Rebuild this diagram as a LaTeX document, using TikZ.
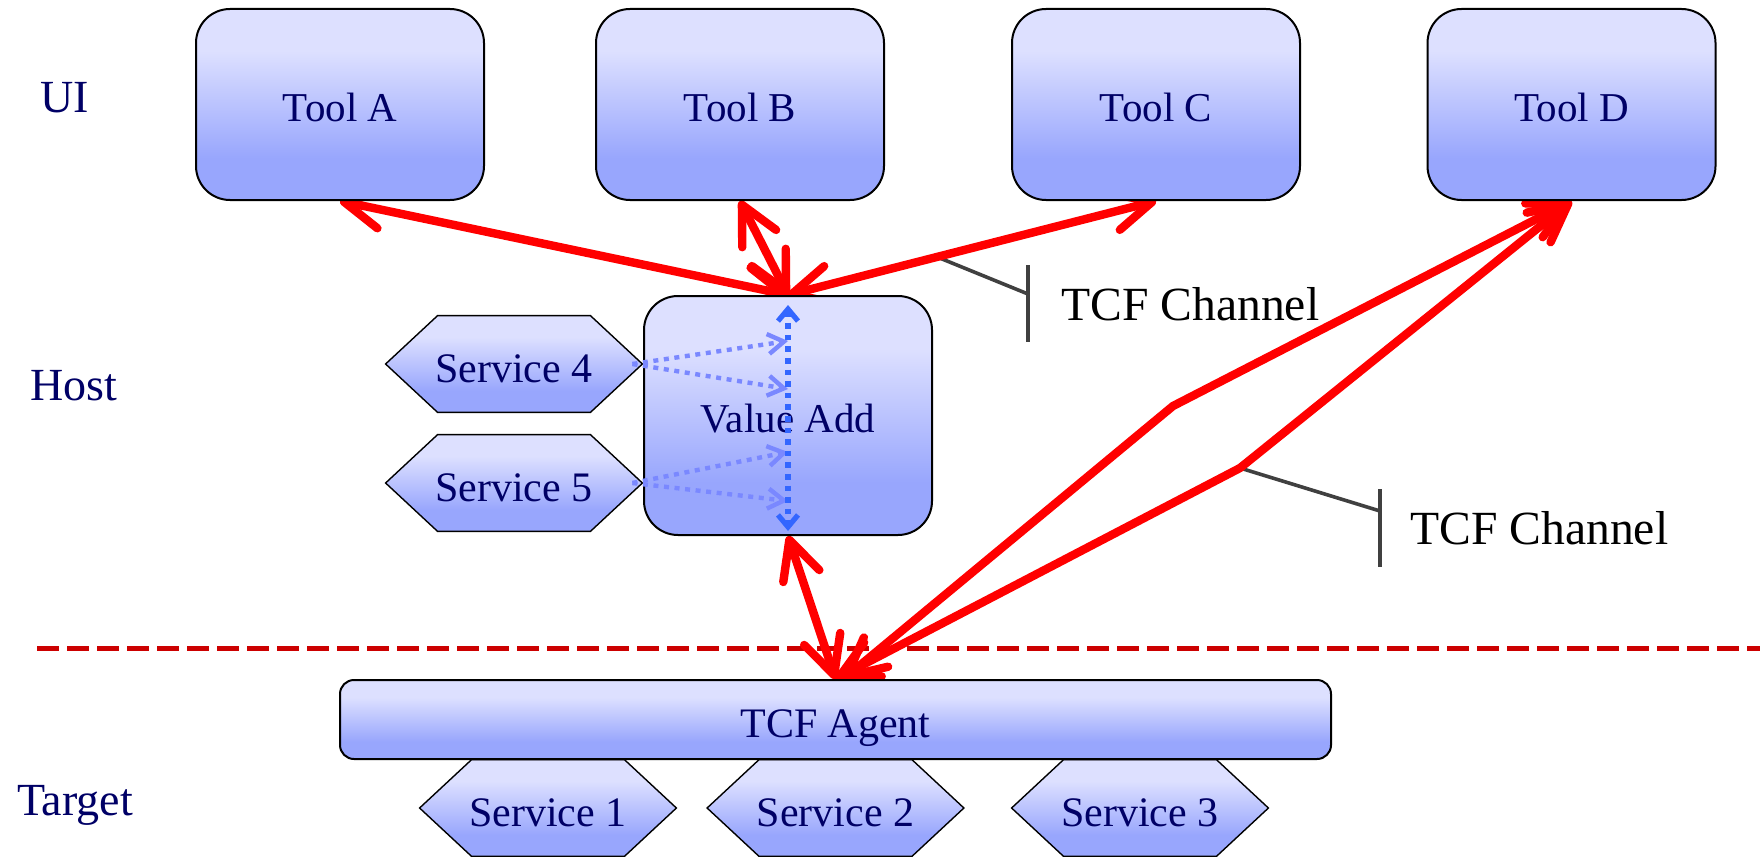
\documentclass[tikz,border=0pt]{standalone}
\usepackage{fontspec}
\setmainfont{Liberation Serif}
\usetikzlibrary{arrows.meta,calc}
\definecolor{btop}{HTML}{DDE0FF}
\definecolor{bbot}{HTML}{98A6FD}
\definecolor{navy}{HTML}{000066}
\definecolor{dred}{HTML}{CC0000}
\definecolor{chgray}{HTML}{404040}
\definecolor{vblue}{HTML}{3366FF}
\definecolor{lblue}{HTML}{7A88FF}
\pgfdeclareverticalshading{boxshade}{100bp}{color(0bp)=(bbot); color(36bp)=(bbot); color(64bp)=(btop); color(100bp)=(btop)}
\pgfdeclarelayer{bg}
\pgfsetlayers{bg,main}
\newcommand{\drawhexagon}[1]{\path[hexshape] (#1.west) -- ($(#1.north west)+(52,0)$) -- ($(#1.north east)+(-52,0)$) -- (#1.east) -- ($(#1.south east)+(-52,0)$) -- ($(#1.south west)+(52,0)$) -- cycle;}
\begin{document}
\begin{tikzpicture}[x=0.5pt,y=-0.5pt,
  box/.style={draw=black, line width=1pt, rounded corners=17pt, shade, shading=boxshade, text=navy, font=\fontsize{20.5}{24}\selectfont, inner sep=0pt, text height=16.8pt, text depth=0pt},
  toolbox/.style={box, minimum width=144pt, minimum height=95.5pt},
  hexnode/.style={rectangle, minimum width=128pt, minimum height=48pt, inner sep=0pt, text=navy, font=\fontsize{21}{25}\selectfont, text height=18pt, text depth=0pt},
  hexshape/.style={draw=black, line width=0.7pt, shade, shading=boxshade},
  layerlabel/.style={text=navy, font=\fontsize{23}{27}\selectfont, inner sep=0pt},
  chan/.style={text=black, font=\fontsize{23.8}{28}\selectfont, inner sep=0pt, anchor=west},
  redarrow/.style={draw=red, line width=4.2pt, >={Straight Barb[length=19pt,width=19pt,round]}, <->},
  chline/.style={draw=chgray, line width=1.8pt},
  dline/.style={draw=dred, line width=2.5pt, dash pattern=on 11pt off 4pt},
  vdot/.style={draw=vblue, line width=2.6pt, dash pattern=on 2.8pt off 3pt, >={Straight Barb[length=6pt,width=10pt]}, <->},
  ldot/.style={draw=lblue, line width=2.2pt, dash pattern=on 2.5pt off 2.8pt, >={Straight Barb[length=8pt,width=10pt]}, ->}
]
\useasboundingbox (0,0) rectangle (1760,856);

% layer labels
\node[layerlabel] (ui) at (65,98) {UI};
\node[layerlabel] (host) at (74,386) {Host};
\node[layerlabel] (target) at (75,805) {Target};

% boxes
\node[toolbox] (ta) at (340,104.5) {Tool A};
\node[toolbox] (tb) at (740,104.5) {Tool B};
\node[toolbox] (tc) at (1156,104.5) {Tool C};
\node[toolbox] (td) at (1571.5,104.5) {Tool D};
\node[box, minimum width=144pt, minimum height=119.5pt] (va) at (788,415.5) {Value Add};

\node[hexnode] (s4) at (514,364) {Service 4};
\node[hexnode] (s5) at (514,483) {Service 5};
\node[hexnode] (s1) at (548,808) {Service 1};
\node[hexnode] (s2) at (835.5,808) {Service 2};
\node[hexnode] (s3) at (1140,808) {Service 3};

\node[box, rounded corners=7pt, minimum width=495.5pt, minimum height=39.5pt, font=\fontsize{21}{25}\selectfont, text height=17.5pt] (agent) at (835.5,719.5) {TCF Agent};

% channel labels
\node[chan] (c1) at (1061,304) {TCF Channel};
\node[chan] (c2) at (1410,528) {TCF Channel};

% coordinates
\coordinate (dl1) at (37,648);
\coordinate (dl2) at (1760,648);
\coordinate (b1) at (1173,406);
\coordinate (b2) at (1240,468);
\coordinate (a1) at ($(agent.north)+(8,0)$);
\coordinate (a2) at ($(agent.north)+(0,0)$);
\coordinate (ch1) at ($(va.north)!0.405!(tc.south)$);
\coordinate (k1) at (1028,294);
\coordinate (k1t) at (1028,265);
\coordinate (k1b) at (1028,342);
\coordinate (k2) at (1380,511);
\coordinate (k2t) at (1380,489);
\coordinate (k2b) at (1380,567);

\begin{pgfonlayer}{bg}
  \draw[dline] (dl1) -- (dl2);
  \drawhexagon{s4}
  \drawhexagon{s5}
  \drawhexagon{s1}
  \drawhexagon{s2}
  \drawhexagon{s3}
  \draw[chline] (ch1) -- (k1);
  \draw[chline] (k1t) -- (k1b);
  \draw[chline] (b2) -- (k2);
  \draw[chline] (k2t) -- (k2b);
  \draw[redarrow] (va.north) -- (ta.south);
  \draw[redarrow] (va.north) -- (tb.south);
  \draw[redarrow] (va.north) -- (tc.south);
  \draw[redarrow] (va.south) -- (agent.north);
  \draw[redarrow] (a1) -- (b1) -- (td.south);
  \draw[redarrow] (a2) -- (b2) -- (td.south);
\end{pgfonlayer}

% blue dotted arrows inside Value Add
\coordinate (vt) at ($(va.north)+(0,10)$);
\coordinate (vb) at ($(va.south)+(0,-5)$);
\coordinate (s4o) at ($(s4.east)+(-10,0)$);
\coordinate (s5o) at ($(s5.east)+(-10,0)$);
\coordinate (e1) at ($(va.north)+(0,46)$);
\coordinate (e2) at ($(va.north)+(0,94)$);
\coordinate (e3) at ($(va.north)+(0,157)$);
\coordinate (e4) at ($(va.north)+(0,206)$);
\draw[ldot] (s4o) -- (e1);
\draw[ldot] (s4o) -- (e2);
\draw[ldot] (s5o) -- (e3);
\draw[ldot] (s5o) -- (e4);
\draw[vdot] (vt) -- (vb);
\end{tikzpicture}
\end{document}
